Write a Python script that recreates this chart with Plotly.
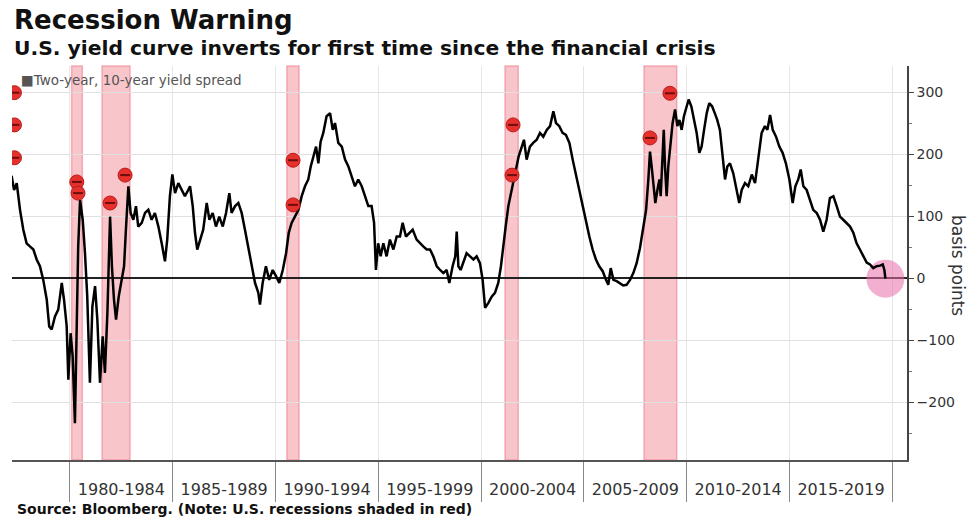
import plotly.graph_objects as go

# ---- data ----
years = [
    1977.16, 1977.28, 1977.41, 1977.57, 1977.73, 1977.89, 1978.05, 1978.22, 1978.38, 1978.54,
    1978.70, 1978.87, 1978.99, 1979.11, 1979.27, 1979.43, 1979.60, 1979.71, 1979.84, 1979.92,
    1980.03, 1980.13, 1980.24, 1980.32, 1980.40, 1980.49, 1980.62, 1980.73, 1980.84, 1980.97,
    1981.09, 1981.22, 1981.33, 1981.46, 1981.59, 1981.70, 1981.82, 1981.95, 1982.04, 1982.14,
    1982.24, 1982.37, 1982.51, 1982.63, 1982.72, 1982.84, 1982.95, 1983.08, 1983.21, 1983.32,
    1983.49, 1983.65, 1983.81, 1983.97, 1984.13, 1984.30, 1984.46, 1984.62, 1984.73, 1984.86,
    1984.98, 1985.11, 1985.27, 1985.43, 1985.59, 1985.75, 1985.84, 1985.97, 1986.08, 1986.19,
    1986.32, 1986.48, 1986.65, 1986.78, 1986.94, 1987.10, 1987.26, 1987.43, 1987.59, 1987.75,
    1987.86, 1988.03, 1988.19, 1988.35, 1988.51, 1988.67, 1988.84, 1989.00, 1989.16, 1989.24,
    1989.37, 1989.53, 1989.69, 1989.86, 1990.02, 1990.18, 1990.35, 1990.51, 1990.64, 1990.78,
    1990.94, 1991.11, 1991.27, 1991.43, 1991.59, 1991.71, 1991.84, 1991.97, 1992.08, 1992.19,
    1992.32, 1992.48, 1992.65, 1992.78, 1992.89, 1993.05, 1993.22, 1993.38, 1993.54, 1993.70,
    1993.86, 1994.02, 1994.19, 1994.35, 1994.51, 1994.67, 1994.79, 1994.88, 1994.99, 1995.11,
    1995.24, 1995.40, 1995.56, 1995.73, 1995.89, 1996.05, 1996.18, 1996.34, 1996.50, 1996.67,
    1996.86, 1997.02, 1997.18, 1997.35, 1997.51, 1997.67, 1997.84, 1998.00, 1998.16, 1998.32,
    1998.45, 1998.61, 1998.74, 1998.81, 1998.89, 1999.00, 1999.13, 1999.29, 1999.46, 1999.62,
    1999.78, 1999.94, 2000.07, 2000.19, 2000.35, 2000.51, 2000.67, 2000.83, 2000.96, 2001.08,
    2001.19, 2001.32, 2001.43, 2001.56, 2001.69, 2001.82, 2001.97, 2002.08, 2002.21, 2002.37,
    2002.53, 2002.70, 2002.86, 2003.02, 2003.19, 2003.35, 2003.51, 2003.64, 2003.80, 2003.96,
    2004.12, 2004.29, 2004.45, 2004.61, 2004.77, 2004.94, 2005.10, 2005.26, 2005.42, 2005.58,
    2005.74, 2005.91, 2006.07, 2006.18, 2006.30, 2006.43, 2006.59, 2006.75, 2006.91, 2007.07,
    2007.24, 2007.40, 2007.56, 2007.72, 2007.88, 2008.02, 2008.13, 2008.21, 2008.29, 2008.38,
    2008.47, 2008.57, 2008.67, 2008.73, 2008.81, 2008.88, 2008.94, 2009.02, 2009.10, 2009.22,
    2009.31, 2009.43, 2009.54, 2009.64, 2009.75, 2009.86, 2009.99, 2010.09, 2010.22, 2010.35,
    2010.48, 2010.61, 2010.72, 2010.84, 2010.97, 2011.09, 2011.23, 2011.36, 2011.48, 2011.61,
    2011.74, 2011.86, 2011.97, 2012.10, 2012.26, 2012.43, 2012.55, 2012.67, 2012.83, 2012.99,
    2013.16, 2013.32, 2013.48, 2013.64, 2013.80, 2013.92, 2014.05, 2014.18, 2014.34, 2014.50,
    2014.66, 2014.82, 2014.99, 2015.15, 2015.28, 2015.42, 2015.54, 2015.67, 2015.83, 2015.99,
    2016.15, 2016.32, 2016.48, 2016.64, 2016.80, 2016.96, 2017.13, 2017.29, 2017.45, 2017.61,
    2017.78, 2017.94, 2018.10, 2018.26, 2018.42, 2018.59, 2018.75, 2018.91, 2019.07, 2019.23,
    2019.40, 2019.53, 2019.61, 2019.66,
]
spread_bp = [
    165, 142, 153, 110, 78, 56, 51, 46, 30, 19,
    -3, -35, -78, -83, -62, -51, -8, -35, -78, -164,
    -89, -126, -234, -110, 51, 126, 94, 40, -30, -169,
    -46, -13, -67, -169, -94, -153, -56, 99, 19, -35,
    -67, -30, -3, 19, 78, 148, 105, 94, 116, 83,
    89, 105, 110, 94, 105, 83, 56, 27, 62, 132,
    167, 137, 153, 142, 132, 142, 148, 116, 73, 46,
    62, 78, 121, 94, 105, 83, 99, 83, 105, 137,
    105, 116, 121, 105, 78, 51, 24, -8, -24, -43,
    -8, 19, -3, 13, 3, -8, 13, 40, 73, 89,
    99, 110, 132, 148, 159, 180, 196, 212, 185, 220,
    234, 261, 266, 239, 250, 218, 212, 191, 180, 164,
    148, 159, 148, 132, 116, 116, 89, 13, 56, 35,
    56, 35, 62, 46, 67, 67, 89, 67, 73, 78,
    62, 56, 51, 46, 46, 35, 19, 13, 8, 13,
    -8, 19, 35, 75, 19, 13, 24, 40, 35, 30,
    35, 24, -3, -48, -40, -30, -24, -8, 19, 56,
    83, 116, 132, 153, 175, 196, 212, 223, 191, 212,
    218, 223, 234, 228, 239, 245, 269, 250, 245, 234,
    231, 218, 191, 164, 142, 116, 89, 67, 46, 30,
    19, 11, -3, -11, 16, -3, -5, -9, -12, -11,
    -3, 8, 24, 48, 78, 110, 159, 204, 180, 148,
    121, 142, 159, 132, 191, 239, 180, 132, 180, 218,
    250, 272, 245, 255, 239, 261, 277, 288, 277, 255,
    234, 202, 212, 239, 266, 282, 277, 266, 255, 239,
    202, 159, 180, 185, 169, 142, 121, 142, 153, 148,
    167, 153, 191, 234, 245, 239, 263, 239, 228, 212,
    202, 185, 159, 121, 148, 159, 175, 148, 142, 126,
    110, 105, 94, 75, 94, 129, 132, 116, 99, 94,
    89, 83, 73, 56, 46, 35, 25, 22, 16, 19,
    20, 22, 13, -1,
]

recession_start = [1980.08, 1981.56, 1990.55, 2001.16, 2007.92]
recession_end = [1980.60, 1982.92, 1991.14, 2001.80, 2009.51]

marker_years = [1977.30, 1977.30, 1977.30, 1980.33, 1980.39, 1981.95, 1982.68,
                1990.85, 1990.85, 2001.55, 2001.50, 2008.21, 2009.18]
marker_values = [299, 247, 194, 155, 137, 121, 166, 190, 118, 247, 166, 226, 298]

period_centers = [1982.5, 1987.5, 1992.5, 1997.5, 2002.5, 2007.5, 2012.5, 2017.5]
period_labels = ["1980-1984", "1985-1989", "1990-1994", "1995-1999",
                 "2000-2004", "2005-2009", "2010-2014", "2015-2019"]
y_ticks = [-200, -100, 0, 100, 200, 300]

FONT = "DejaVu Sans"

fig = go.Figure()

# recession shading
for s, e in zip(recession_start, recession_end):
    fig.add_vrect(x0=s, x1=e, fillcolor="rgba(243,150,160,0.55)",
                  line=dict(color="rgba(236,120,135,0.55)", width=1.5),
                  layer="below")

# highlight circle at the latest reading
fig.add_trace(go.Scatter(
    x=[years[-1]], y=[spread_bp[-1]], mode="markers",
    marker=dict(size=38, color="rgba(232,110,170,0.55)", line=dict(width=0)),
    hoverinfo="skip", showlegend=False, cliponaxis=False))

fig.add_trace(go.Scatter(
    x=years, y=spread_bp, mode="lines",
    line=dict(color="black", width=2.5),
    name="Two-year, 10-year yield spread", showlegend=False))

# red markers
fig.add_trace(go.Scatter(
    x=marker_years, y=marker_values, mode="markers",
    marker=dict(size=14, color="#e5302c", line=dict(color="#b81c1c", width=1)),
    hoverinfo="skip", showlegend=False))
fig.add_trace(go.Scatter(
    x=marker_years, y=marker_values, mode="markers",
    marker=dict(size=7, symbol="line-ew", line=dict(color="#6a0d0d", width=2)),
    hoverinfo="skip", showlegend=False))

fig.update_layout(
    width=968, height=526,
    margin=dict(l=12, r=61, t=66, b=66),
    paper_bgcolor="white", plot_bgcolor="white",
    font=dict(family=FONT, color="#333"),
    showlegend=False,
    xaxis=dict(
        range=[1977.18, 2020.71],
        tickmode="array", tickvals=period_centers, ticktext=period_labels,
        ticks="outside", ticklen=14, tickcolor="rgba(0,0,0,0)",
        tickfont=dict(family=FONT, size=16, color="#333"),
        showgrid=False, zeroline=False,
        showline=True, linecolor="#555", linewidth=1.5,
        minor=dict(tickmode="linear", tick0=1980, dtick=5, ticks="outside",
                   ticklen=40, tickcolor="#888", tickwidth=1,
                   showgrid=True, gridcolor="#e6e6e6", gridwidth=1),
    ),
    yaxis=dict(
        side="right", range=[-293.5, 342],
        tickmode="array", tickvals=y_ticks,
        ticks="outside", ticklen=5, tickcolor="#444",
        tickfont=dict(family=FONT, size=14, color="#333"),
        showgrid=True, gridcolor="#e0e0e0", gridwidth=1,
        zeroline=True, zerolinecolor="#222", zerolinewidth=2,
        showline=True, linecolor="#444", linewidth=1.5,
        minor=dict(tickmode="linear", tick0=0, dtick=50, ticks="outside",
                   ticklen=3, tickcolor="#777", showgrid=False),
    ),
)

fig.add_annotation(text="<b>Recession Warning</b>", xref="paper", yref="paper",
                   x=0, y=1.117, xanchor="left", yanchor="middle", showarrow=False,
                   font=dict(family=FONT, size=26, color="#111"))
fig.add_annotation(text="<b>U.S. yield curve inverts for first time since the financial crisis</b>",
                   xref="paper", yref="paper", x=0, y=1.046, xanchor="left", yanchor="middle",
                   showarrow=False, font=dict(family=FONT, size=20.3, color="#111"))
fig.add_annotation(text="<b>Source: Bloomberg. (Note: U.S. recessions shaded in red)</b>",
                   xref="paper", yref="paper", x=0.003, y=-0.124, xanchor="left", yanchor="middle",
                   showarrow=False, font=dict(family=FONT, size=14, color="#111"))
fig.add_annotation(text="■Two-year, 10-year yield spread", xref="paper", yref="paper",
                   x=0.008, y=0.964, xanchor="left", yanchor="middle", showarrow=False,
                   font=dict(family=FONT, size=13.5, color="#555"))
fig.add_annotation(text="basis points", xref="paper", yref="paper",
                   x=1.057, y=0.495, xanchor="center", yanchor="middle", textangle=90,
                   showarrow=False, font=dict(family=FONT, size=17, color="#333"))

fig.write_html("out.html")
